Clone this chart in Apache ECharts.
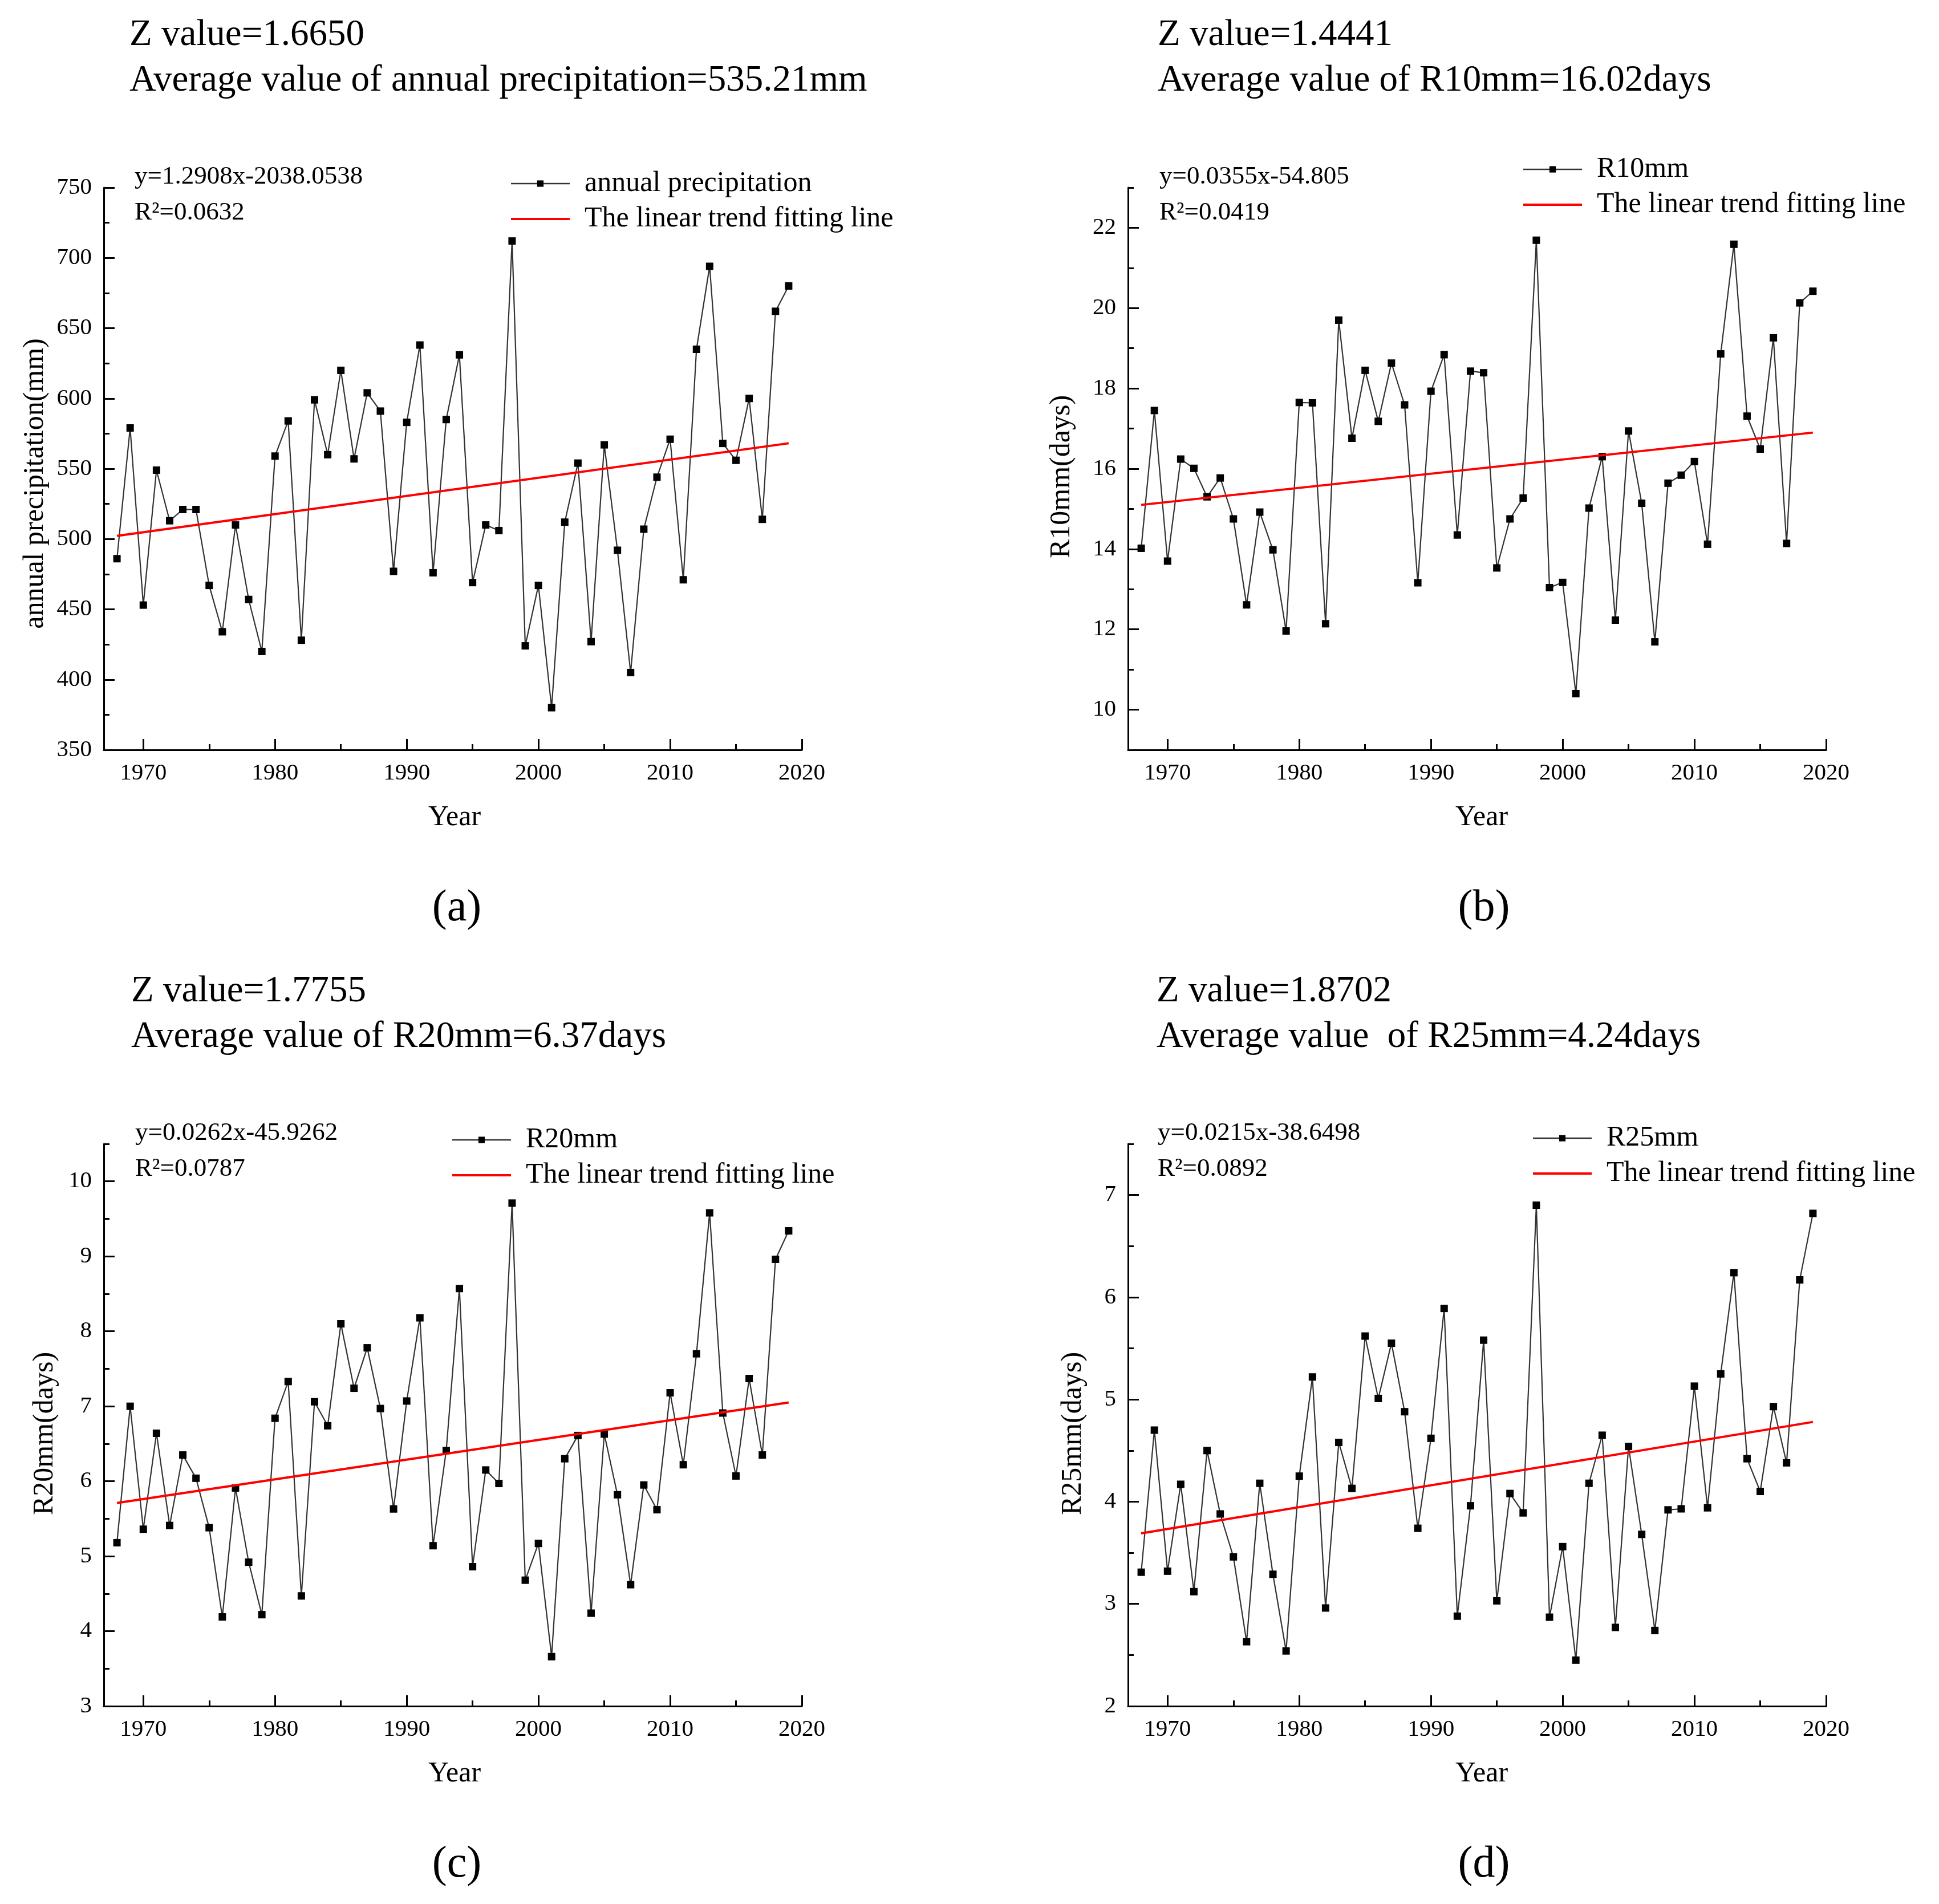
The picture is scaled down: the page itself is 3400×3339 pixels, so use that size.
<!DOCTYPE html>
<html><head><meta charset="utf-8">
<script src="https://cdn.jsdelivr.net/npm/echarts@6/dist/echarts.min.js"></script>
<style>html,body{margin:0;padding:0;background:#fff}#c{width:3400px;height:3339px}</style>
</head><body><div id="c"></div><script>
// ---------------- data ----------------
const years = [1968,1969,1970,1971,1972,1973,1974,1975,1976,1977,1978,1979,
  1980,1981,1982,1983,1984,1985,1986,1987,1988,1989,
  1990,1991,1992,1993,1994,1995,1996,1997,1998,1999,
  2000,2001,2002,2003,2004,2005,2006,2007,2008,2009,
  2010,2011,2012,2013,2014,2015,2016,2017,2018,2019];
const annualPrecipitation = [486,579,453,549,513,521,521,467,434,510,457,420,
  559,584,428,599,560,620,557,604,591,477,
  583,638,476,585,631,469,510,506,712,424,
  467,380,512,554,427,567,492,405,507,544,
  571,471,635,694,568,556,600,514,662,680];
const r10mm = [14.02,17.45,13.70,16.24,16.01,15.30,15.77,14.75,12.61,14.92,13.98,11.96,
  17.65,17.64,12.14,19.70,16.76,18.45,17.18,18.63,17.59,13.16,
  17.93,18.84,14.35,18.43,18.39,13.53,14.75,15.27,21.69,13.04,
  13.17,10.40,15.02,16.30,12.23,16.94,15.14,11.69,15.64,15.84,
  16.18,14.12,18.86,21.59,17.31,16.49,19.26,14.14,20.13,20.42];
const r20mm = [5.18,7.00,5.36,6.64,5.41,6.35,6.04,5.38,4.19,5.91,4.92,4.22,
  6.84,7.33,4.47,7.06,6.74,8.10,7.24,7.78,6.97,5.63,
  7.07,8.18,5.14,6.41,8.57,4.86,6.15,5.97,9.71,4.68,
  5.17,3.66,6.30,6.61,4.24,6.63,5.82,4.62,5.95,5.62,
  7.18,6.22,7.70,9.58,6.91,6.07,7.37,6.35,8.96,9.34];
const r25mm = [3.31,4.70,3.32,4.17,3.12,4.50,3.88,3.46,2.63,4.18,3.29,2.54,
  4.25,5.22,2.96,4.58,4.13,5.62,5.01,5.55,4.88,3.74,
  4.62,5.89,2.88,3.96,5.58,3.03,4.08,3.89,6.90,2.87,
  3.56,2.45,4.18,4.65,2.77,4.54,3.68,2.74,3.92,3.93,
  5.13,3.94,5.25,6.24,4.42,4.10,4.93,4.38,6.17,6.82];

// trend line end points (1968, 2019)
const trendYears = [1968, 2019];
const trendPrecip = [502.2, 568.1];
const trendR10 = [15.1, 16.9];
const trendR20 = [5.71, 7.05];
const trendR25 = [3.69, 4.78];

// tick labels
const xMajorTicks = [1970,1980,1990,2000,2010,2020];
const xMinorTicks = [1975,1985,1995,2005,2015];
const yMajorA = [350,400,450,500,550,600,650,700,750];
const yMinorA = [375,425,475,525,575,625,675,725];
const yMajorB = [10,12,14,16,18,20,22];
const yMinorB = [11,13,15,17,19,21,23];
const yMajorC = [3,4,5,6,7,8,9,10];
const yMinorC = [3.5,4.5,5.5,6.5,7.5,8.5,9.5,10.5];
const yMajorD = [2,3,4,5,6,7];
const yMinorD = [2.5,3.5,4.5,5.5,6.5,7.5];

const seriesNames = ['annual precipitation','R10mm','R20mm','R25mm'];
const trendName = 'The linear trend fitting line';
const zTexts = ['Z value=1.6650','Z value=1.4441','Z value=1.7755','Z value=1.8702'];
const avgTexts = ['Average value of annual precipitation=535.21mm','Average value of R10mm=16.02days',
  'Average value of R20mm=6.37days','Average value  of R25mm=4.24days'];
const eqTexts = ['y=1.2908x-2038.0538','y=0.0355x-54.805','y=0.0262x-45.9262','y=0.0215x-38.6498'];
const r2Texts = ['R²=0.0632','R²=0.0419','R²=0.0787','R²=0.0892'];
const yNames = ['annual precipitation(mm)','R10mm(days)','R20mm(days)','R25mm(days)'];
const panelLabels = ['(a)','(b)','(c)','(d)'];

// ---------------- layout ----------------
const FONT = 'Liberation Serif';
const panels = [
  {values: annualPrecipitation, trend: trendPrecip, yMin:350, yMax:750, yMajor:yMajorA, yMinor:yMinorA,
   left:182, top:329, titleX:227, eqX:236, legL:894, legT:297, yNameX:62, yNameY:848, xNameX:797},
  {values: r10mm, trend: trendR10, yMin:9, yMax:23, yMajor:yMajorB, yMinor:yMinorB,
   left:1978, top:329, titleX:2030, eqX:2033, legL:2669, legT:272, yNameX:1862, yNameY:836, xNameX:2598},
  {values: r20mm, trend: trendR20, yMin:3, yMax:10.5, yMajor:yMajorC, yMinor:yMinorC,
   left:182, top:2006, titleX:230, eqX:237, legL:791, legT:1974, yNameX:79, yNameY:2514, xNameX:797},
  {values: r25mm, trend: trendR25, yMin:2, yMax:7.5, yMajor:yMajorD, yMinor:yMinorD,
   left:1978, top:2006, titleX:2028, eqX:2030, legL:2686, legT:1971, yNameX:1882, yNameY:2514, xNameX:2598}
];
const GW = 1224, GH = 986;

const grid = [], xAxis = [], yAxis = [], series = [], legend = [], graphic = [];
const axisColor = '#000';
const plain = v => String(v);
panels.forEach((p, i) => {
  grid.push({left:p.left, top:p.top, width:GW, height:GH, outerBoundsMode:'none', containLabel:false});
  const lineStyle = {color:axisColor, width:3};
  xAxis.push({type:'value', gridIndex:i, min:1967, max:2020, position:'bottom',
    axisLine:{show:true, onZero:false, lineStyle},
    axisTick:{show:true, inside:true, length:19, customValues:xMajorTicks, lineStyle:{color:axisColor, width:3}},
    axisLabel:{show:true, customValues:xMajorTicks, formatter:plain, margin:21, fontSize:41, color:'#000', fontFamily:FONT},
    splitLine:{show:false}});
  xAxis.push({type:'value', gridIndex:i, min:1967, max:2020, position:'bottom',
    axisLine:{show:false, onZero:false},
    axisTick:{show:true, inside:true, length:10, customValues:xMinorTicks, lineStyle:{color:axisColor, width:3}},
    axisLabel:{show:false}, splitLine:{show:false}});
  yAxis.push({type:'value', gridIndex:i, min:p.yMin, max:p.yMax, position:'left',
    axisLine:{show:true, onZero:false, lineStyle},
    axisTick:{show:true, inside:true, length:19, customValues:p.yMajor, lineStyle:{color:axisColor, width:3}},
    axisLabel:{show:true, customValues:p.yMajor, formatter:plain, margin:21, fontSize:41, color:'#000', fontFamily:FONT},
    splitLine:{show:false}});
  yAxis.push({type:'value', gridIndex:i, min:p.yMin, max:p.yMax, position:'left',
    axisLine:{show:false, onZero:false},
    axisTick:{show:true, inside:true, length:10, customValues:p.yMinor, lineStyle:{color:axisColor, width:3}},
    axisLabel:{show:false}, splitLine:{show:false}});

  series.push({type:'line', name:seriesNames[i], xAxisIndex:2*i, yAxisIndex:2*i,
    data: years.map((y, k) => [y, p.values[k]]),
    symbol:'rect', symbolSize:13, showAllSymbol:true,
    itemStyle:{color:'#000'}, lineStyle:{color:'#333', width:2.2}, z:2, silent:true});
  series.push({type:'line', name:trendName, xAxisIndex:2*i, yAxisIndex:2*i,
    data: trendYears.map((y, k) => [y, p.trend[k]]),
    symbol:'none', itemStyle:{color:'#ff0000'}, lineStyle:{color:'#ff0000', width:4}, z:3, silent:true});

  legend.push({orient:'vertical', left:p.legL, top:p.legT, padding:0, itemGap:12,
    itemWidth:103, itemHeight:14, selectedMode:false,
    data:[{name:seriesNames[i], lineStyle:{width:2.5, color:'#333'}},
          {name:trendName, itemStyle:{opacity:0}, lineStyle:{width:4, color:'#ff0000'}}],
    textStyle:{fontFamily:FONT, fontSize:50, color:'#000', padding:[0,0,0,21]}});

  const dy = p.top - 329;
  const txt = (x, y, text, size, extra) => Object.assign({type:'text', x, y, silent:true,
    style:Object.assign({text, fontSize:size, fontFamily:FONT, fill:'#000', verticalAlign:'middle'}, extra || {})});
  graphic.push(txt(p.titleX, 62 + dy, zTexts[i], 65));
  graphic.push(txt(p.titleX, 142 + dy, avgTexts[i], 65));
  graphic.push(txt(p.eqX, 310 + dy, eqTexts[i], 45));
  graphic.push(txt(p.eqX, 373 + dy, r2Texts[i], 45));
  const yn = txt(p.yNameX, p.yNameY, yNames[i], 50, {align:'center'});
  yn.rotation = Math.PI / 2;
  graphic.push(yn);
  graphic.push(txt(p.xNameX, 1434 + dy, 'Year', 50, {align:'center'}));
  graphic.push(txt(p.xNameX + 4, 1594 + dy, panelLabels[i], 78, {align:'center'}));
});

const chart = echarts.init(document.getElementById('c'), null, {renderer:'canvas'});
chart.setOption({
  backgroundColor:'#fff',
  animation:false,
  grid, xAxis, yAxis, series, legend, graphic
});
</script></body></html>
